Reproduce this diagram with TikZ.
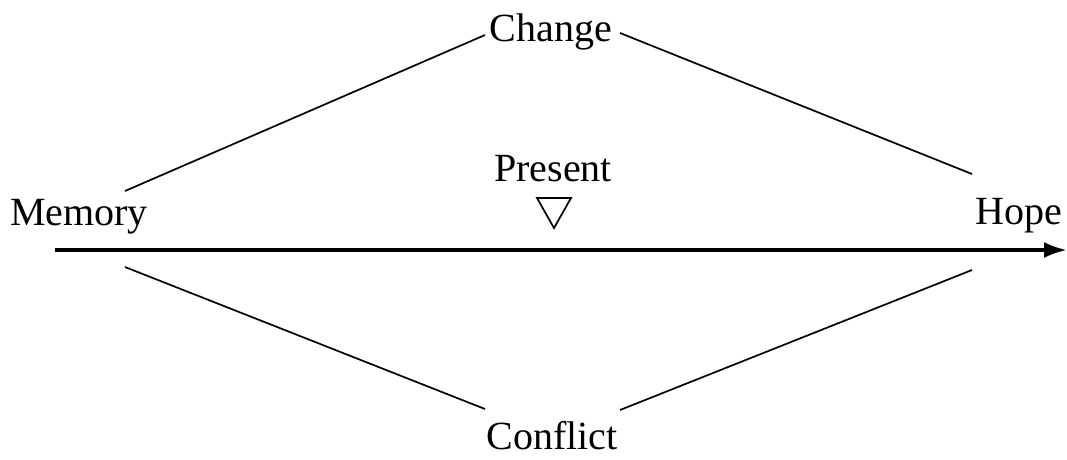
\documentclass[tikz,border=0pt]{standalone}
\usepackage{fontspec}
\setmainfont{Liberation Serif}
\usetikzlibrary{arrows.meta}
\begin{document}
\begin{tikzpicture}[x=1pt,y=-1pt,
  label/.style={inner sep=0pt,anchor=base,font=\fontsize{40}{48}\selectfont},
  link/.style={line width=1.7pt},
  axis/.style={line width=3.6pt,-{Latex[length=23pt,width=16pt]}}]
  \useasboundingbox (0,0) rectangle (1067,459);

  % terms of the diagram
  \node[label] (change)   at (551,41)  {Change};
  \node[label] (memory)   at (79,225)  {Memory};
  \node[label] (present)  at (553,181) {Present};
  \node[label] (hope)     at (1019,224) {Hope};
  \node[label] (conflict) at (552,449) {Conflict};

  % ends of the connecting lines
  \coordinate (memUp)   at (125,191);
  \coordinate (memDown) at (125,267);
  \coordinate (hopeUp)  at (972,174);
  \coordinate (hopeDown) at (972,270);
  \coordinate (chL) at (485,35);
  \coordinate (chR) at (620,33);
  \coordinate (coL) at (485,409);
  \coordinate (coR) at (620,410);
  \coordinate (axStart) at (55,250);
  \coordinate (axEnd)   at (1067,250);

  \draw[link] (memUp) -- (chL);
  \draw[link] (chR) -- (hopeUp);
  \draw[link] (memDown) -- (coL);
  \draw[link] (coR) -- (hopeDown);

  % time axis
  \draw[axis] (axStart) -- (axEnd);

  % marker of the present
  \draw[line width=1.7pt,line join=miter] (537,198) -- (571,198) -- (554,228) -- cycle;
\end{tikzpicture}
\end{document}
